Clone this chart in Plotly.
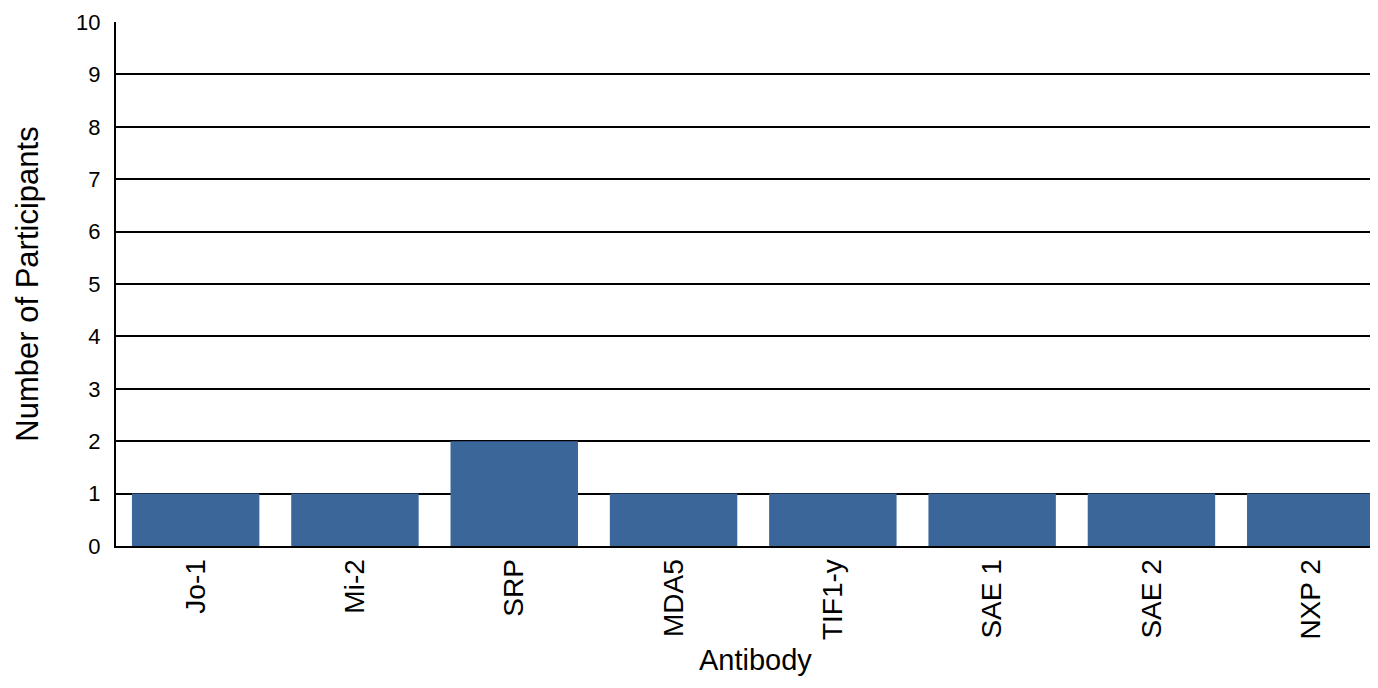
import plotly.graph_objects as go

categories = ["Jo-1", "Mi-2", "SRP", "MDA5", "TIF1-y", "SAE 1", "SAE 2", "NXP 2"]
counts = [1, 1, 2, 1, 1, 1, 1, 1]
y_ticks = list(range(0, 11))
x_title = "Antibody"
y_title = "Number of Participants"

fig = go.Figure()
fig.add_trace(go.Bar(
    x=categories, y=counts, marker=dict(color="#3A6699", line=dict(width=0)),
    width=0.8,
))
fig.update_layout(
    width=1362, height=672,
    margin=dict(l=108, r=0, t=14, b=134),
    plot_bgcolor="white", paper_bgcolor="white",
    font=dict(family="Liberation Sans, Arial, sans-serif", size=22, color="black"),
    showlegend=False,
)
fig.add_annotation(
    text=x_title, xref="paper", yref="paper", x=0.5096, y=-0.218,
    xanchor="center", yanchor="middle", showarrow=False, font=dict(size=29),
)
fig.update_xaxes(
    range=[-0.5, 7.372], tickangle=-90, showgrid=False,
    showline=True, linecolor="black", linewidth=2, ticks="",
    tickfont=dict(size=28), automargin=False,
)
fig.update_yaxes(
    range=[0, 10], tickvals=y_ticks, showgrid=True, gridcolor="black", gridwidth=2,
    showline=True, linecolor="black", linewidth=2, ticks="", zeroline=False,
    ticklabelstandoff=9,
    title=dict(text=y_title, font=dict(size=31), standoff=28),
    tickfont=dict(size=22),
)
fig.write_html("out.html")
